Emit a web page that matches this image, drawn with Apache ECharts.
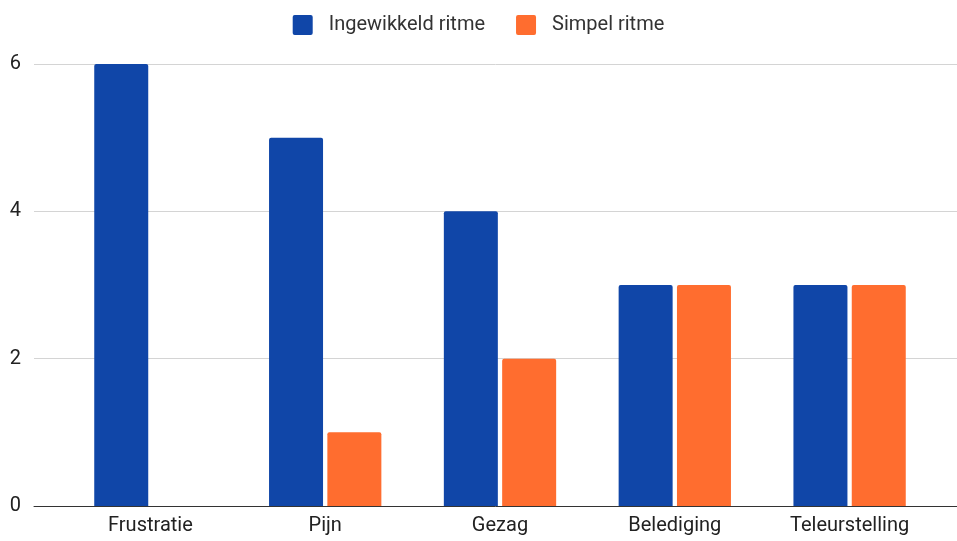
<!DOCTYPE html>
<html>
<head>
<meta charset="utf-8">
<script src="https://cdn.jsdelivr.net/npm/echarts@6/dist/echarts.min.js"></script>
<style>
  html, body { margin: 0; padding: 0; background: #fff; }
  #chart { width: 957px; height: 541px; }
</style>
</head>
<body>
<div id="chart"></div>
<script>
// Emotions named after listening to a rhythm, counted per rhythm type
const categories = ['Frustratie', 'Pijn', 'Gezag', 'Belediging', 'Teleurstelling'];
const ingewikkeld = [6, 5, 4, 3, 3];
const simpel = [0, 1, 2, 3, 3];
const seriesNames = ['Ingewikkeld ritme', 'Simpel ritme'];
const yTicks = { min: 0, max: 6, interval: 2 };

const FONT = 'Roboto, "Liberation Sans", sans-serif';
// small square with slightly rounded corners for the legend swatches
const SWATCH = 'path://M2,0 H18 Q20,0 20,2 V18 Q20,20 18,20 H2 Q0,20 0,18 V2 Q0,0 2,0 Z';
const chart = echarts.init(document.getElementById('chart'), null, { renderer: 'canvas' });

chart.setOption({
  animation: false,
  textStyle: { fontFamily: FONT },
  legend: {
    top: 10,
    left: 'center',
    itemWidth: 22,
    itemHeight: 20,
    itemGap: 31,
    icon: SWATCH,
    textStyle: { fontSize: 20, color: '#333', fontFamily: FONT, padding: [0, 0, 0, 10] },
    data: seriesNames
  },
  grid: [
    // frame grid: value gridlines and baseline span the full width
    { left: 34, right: 0, top: 64, bottom: 35 },
    // bar grid: category bands
    { left: 63, right: 20, top: 64, bottom: 35 }
  ],
  xAxis: [
    {
      gridIndex: 0, type: 'category', data: categories,
      axisLine: { show: true, lineStyle: { color: '#333', width: 1 } },
      axisTick: { show: false }, axisLabel: { show: false }
    },
    {
      gridIndex: 1, type: 'category', data: categories,
      axisLine: { show: false }, axisTick: { show: false },
      axisLabel: { color: '#222', fontSize: 20, margin: 10, fontFamily: FONT }
    }
  ],
  yAxis: [
    {
      gridIndex: 0, type: 'value', min: yTicks.min, max: yTicks.max, interval: yTicks.interval,
      axisLine: { show: false }, axisTick: { show: false },
      axisLabel: { color: '#222', fontSize: 20, margin: 13, fontFamily: FONT },
      splitLine: { lineStyle: { color: '#d4d4d4', width: 1 } }
    },
    {
      gridIndex: 1, type: 'value', min: yTicks.min, max: yTicks.max, interval: yTicks.interval,
      show: false, splitLine: { show: false }
    }
  ],
  series: [
    {
      name: seriesNames[0], type: 'bar', xAxisIndex: 1, yAxisIndex: 1,
      data: ingewikkeld, barWidth: 54, barGap: '8%',
      itemStyle: { color: '#1046a8', borderRadius: [2, 2, 0, 0] }
    },
    {
      name: seriesNames[1], type: 'bar', xAxisIndex: 1, yAxisIndex: 1,
      data: simpel, barWidth: 54, barGap: '8%',
      itemStyle: { color: '#ff6d2f', borderRadius: [2, 2, 0, 0] }
    }
  ]
});
</script>
</body>
</html>
